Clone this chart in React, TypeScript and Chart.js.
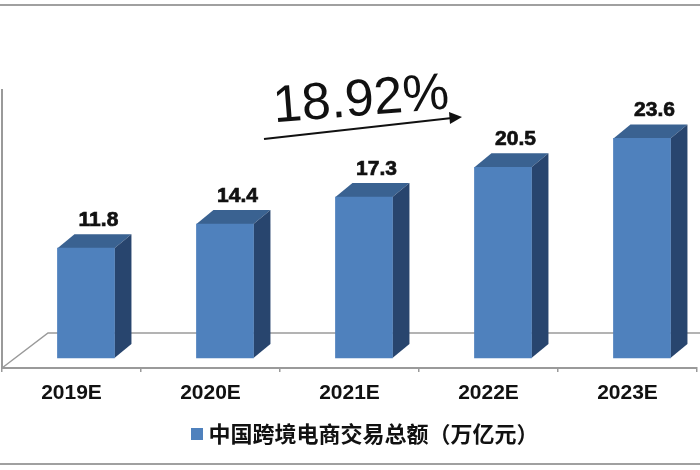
import React, { useEffect, useRef } from "react";
import { Chart, registerables } from "chart.js";

Chart.register(...registerables);

const categories = ["2019E", "2020E", "2021E", "2022E", "2023E"];
const marketValues = [11.8, 14.4, 17.3, 20.5, 23.6];
const seriesLabel = "中国跨境电商交易总额（万亿元）";
const growthLabel = "18.92%";

const FRONT = "#4f81bd";
const TOP = "#3a6291";
const SIDE = "#28456e";
const AXIS = "#9a9a9a";
const DEPTH_X = 17;
const DEPTH_Y = 14;

const extrudePlugin = {
  id: "extrude",
  afterLayout(chart: any) {
    chart.legend.left += 18;
    chart.legend.right += 18;
  },
  beforeDatasetsDraw(chart: any) {
    const { ctx, chartArea, scales } = chart;
    const base = scales.y.getPixelForValue(0);
    const floorY = base - 25;
    ctx.save();
    ctx.strokeStyle = AXIS;
    ctx.lineWidth = 1.5;
    ctx.beginPath();
    ctx.moveTo(chartArea.left, chartArea.bottom);
    ctx.lineTo(chartArea.left + 46, floorY);
    ctx.lineTo(chartArea.right + 5, floorY);
    ctx.stroke();
    chart.getDatasetMeta(0).data.forEach((bar: any) => {
      const l = bar.x - bar.width / 2;
      const r = bar.x + bar.width / 2;
      ctx.fillStyle = TOP;
      ctx.beginPath();
      ctx.moveTo(l, bar.y);
      ctx.lineTo(l + DEPTH_X, bar.y - DEPTH_Y);
      ctx.lineTo(r + DEPTH_X, bar.y - DEPTH_Y);
      ctx.lineTo(r, bar.y);
      ctx.closePath();
      ctx.fill();
      ctx.fillStyle = SIDE;
      ctx.beginPath();
      ctx.moveTo(r, bar.y);
      ctx.lineTo(r + DEPTH_X, bar.y - DEPTH_Y);
      ctx.lineTo(r + DEPTH_X, bar.base - DEPTH_Y);
      ctx.lineTo(r, bar.base);
      ctx.closePath();
      ctx.fill();
    });
    ctx.restore();
  },
  afterDatasetsDraw(chart: any) {
    const { ctx } = chart;
    ctx.save();
    ctx.fillStyle = "#111";
    ctx.strokeStyle = "#111";
    ctx.lineWidth = 0.7;
    ctx.font = 'bold 21px "Liberation Sans"';
    ctx.textAlign = "center";
    ctx.textBaseline = "middle";
    chart.getDatasetMeta(0).data.forEach((bar: any, i: number) => {
      const t = marketValues[i].toFixed(1);
      ctx.fillText(t, bar.x + 12.5, bar.y - 28);
      ctx.strokeText(t, bar.x + 12.5, bar.y - 28);
    });
    ctx.restore();
  },
  afterDraw(chart: any) {
    const { ctx } = chart;
    ctx.save();
    ctx.fillStyle = "#a0a0a0";
    ctx.fillRect(0, 4, 700, 2);
    ctx.fillRect(0, 463, 700, 2);
    // growth arrow
    ctx.strokeStyle = "#111";
    ctx.lineWidth = 2;
    ctx.beginPath();
    ctx.moveTo(264, 139);
    ctx.lineTo(452, 118);
    ctx.stroke();
    ctx.fillStyle = "#111";
    ctx.beginPath();
    ctx.moveTo(462, 117);
    ctx.lineTo(449, 112);
    ctx.lineTo(450, 124);
    ctx.closePath();
    ctx.fill();
    // growth text
    ctx.translate(361, 101);
    ctx.rotate(-4.5 * Math.PI / 180);
    ctx.fillStyle = "#111";
    ctx.font = '52px "Liberation Sans"';
    ctx.textAlign = "center";
    ctx.textBaseline = "middle";
    ctx.fillText(growthLabel, 0, 0);
    ctx.restore();
  },
};

export default function App() {
  const ref = useRef<HTMLCanvasElement>(null);
  useEffect(() => {
    const swatch = document.createElement("canvas");
    swatch.width = 12;
    swatch.height = 12;
    const sctx = swatch.getContext("2d")!;
    sctx.fillStyle = FRONT;
    sctx.fillRect(0, 0, 12, 12);

    const chart = new Chart(ref.current!, {
      type: "bar",
      data: {
        labels: categories,
        datasets: [
          {
            label: seriesLabel,
            data: marketValues.map((y, x) => ({ x, y })),
            backgroundColor: FRONT,
            borderWidth: 0,
            barThickness: 57,
            xAxisID: "xb",
            yAxisID: "y",
          },
        ],
      },
      options: {
        responsive: false,
        animation: false,
        layout: { padding: { left: 2, right: 3, top: 90, bottom: 15 } },
        plugins: {
          tooltip: { enabled: false },
          legend: {
            position: "bottom",
            labels: {
              usePointStyle: true,
              pointStyle: swatch,
              pointStyleWidth: 1,
              boxHeight: 12,
              padding: 10,
              color: "#111",
              font: { family: '"Noto Sans CJK SC"', size: 22, weight: "bold" },
            },
          },
        },
        scales: {
          x: {
            type: "category",
            labels: categories,
            offset: true,
            position: "bottom",
            afterFit: (s: any) => { s.height = 45; },
            grid: { offset: true, drawOnChartArea: false, tickLength: 4, color: AXIS, lineWidth: 1.5 },
            border: { color: AXIS, width: 2 },
            ticks: {
              color: "#111",
              padding: 9,
              maxRotation: 0,
              font: { family: '"Liberation Sans"', size: 21, weight: "bold" },
            },
          },
          xb: {
            type: "linear",
            axis: "x",
            display: false,
            offset: false,
            grid: { offset: false },
            min: -0.604,
            max: 4.396,
          },
          y: {
            min: -1.075,
            max: 28.8,
            position: "left",
            afterFit: (s: any) => { s.width = 0; },
            grid: { display: false },
            border: { color: AXIS, width: 2 },
            ticks: { display: false },
          },
        },
      } as any,
      plugins: [extrudePlugin],
    });
    return () => chart.destroy();
  }, []);
  return (
    <canvas
      ref={ref}
      width={700}
      height={470}
      style={{ position: "absolute", left: 0, top: 0, width: 700, height: 470 }}
    />
  );
}
